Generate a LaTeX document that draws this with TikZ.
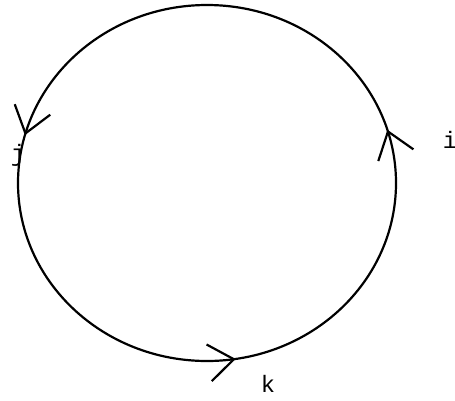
\documentclass[tikz,border=0pt]{standalone}
\usepackage{fontspec}
\setmonofont{Liberation Mono}
\usetikzlibrary{arrows.meta,decorations.markings}

\begin{document}
\begin{tikzpicture}[
    x=0.02cm, y=0.02cm,
    loop/.style={line width=1.25pt, postaction={decorate}, decoration={markings,
        mark=at position 0.047 with {\arrow{barb}},
        mark=at position 0.458 with {\arrow{barb}},
        mark=at position 0.775 with {\arrow{barb}}}},
    barb/.tip={Straight Barb[length=0.5cm, width=0.74cm, line width=1.25pt]},
    lbl/.style={font=\ttfamily\fontsize{13.5}{15}\selectfont, inner sep=0pt}
]
\useasboundingbox (0,0) rectangle (455,400);
% labels first, the loop runs over j
\node[lbl] (li) at (450,260) {i};
\node[lbl] (lj) at (18,245) {j};
\node[lbl] (lk) at (268,16) {k};
\coordinate (c) at (207,217);
\draw[loop] (c) ellipse [x radius=189, y radius=178];
\end{tikzpicture}
\end{document}
